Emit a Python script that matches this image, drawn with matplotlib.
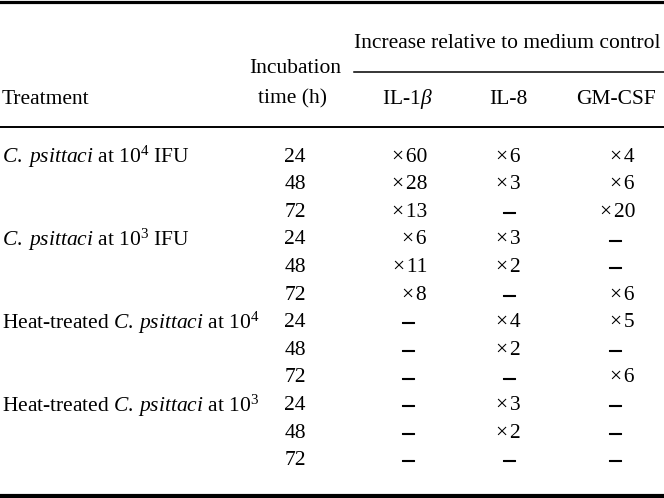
import matplotlib
matplotlib.use("Agg")
import matplotlib.pyplot as plt
import matplotlib.patheffects as pe

plt.rcParams['font.family'] = ['Liberation Serif', 'DejaVu Serif']
plt.rcParams['mathtext.fontset'] = 'custom'
plt.rcParams['mathtext.rm'] = 'Liberation Serif'
plt.rcParams['mathtext.it'] = 'Liberation Serif:italic'

# table content
treatments = [r"$\mathit{C.\;psittaci}$ at 10$^{4}$ IFU", "", "",
              r"$\mathit{C.\;psittaci}$ at 10$^{3}$ IFU", "", "",
              r"Heat-treated $\mathit{C.\,psittaci}$ at 10$^{4}$", "", "",
              r"Heat-treated $\mathit{C.\,psittaci}$ at 10$^{3}$", "", ""]
times = [24, 48, 72, 24, 48, 72, 24, 48, 72, 24, 48, 72]
il1b = [60, 28, 13, 6, 11, 8, None, None, None, None, None, None]
il8 = [6, 3, None, 3, 2, None, 4, 2, None, 3, 2, None]
gmcsf = [4, 6, 20, None, None, 6, 5, None, 6, None, None, None]
cytokines = [r"IL-1$\beta$", "IL-8", "GM-CSF"]

fig = plt.figure(figsize=(6.64, 4.98), dpi=100)
ax = fig.add_axes([0, 0, 1, 1])
ax.set_xlim(0, 664)
ax.set_ylim(498, 0)
ax.axis('off')

fs = 15.5

# rules
ax.plot([0, 664], [1.5, 1.5], color='black', lw=2.3)
ax.plot([0, 664], [127, 127], color='black', lw=1.4)
ax.plot([354, 664], [72, 72], color='black', lw=1.1)
ax.plot([0, 664], [496, 496], color='black', lw=3.0)

# header
ax.text(354, 43, "Increase relative to medium control", fontsize=fs, va='center', ha='left')
ax.text(295, 68, "Incubation", fontsize=fs, va='center', ha='center')
ax.text(2, 99, "Treatment", fontsize=fs, va='center', ha='left')
ax.text(293, 99, "time (h)", fontsize=fs, va='center', ha='center')
head_x = [407, 508, 616]
for x, lab in zip(head_x, cytokines):
    ax.text(x, 99, lab, fontsize=fs, va='center', ha='center')

# rows
row_y0, row_dy = 157, 27.6
right_x = [427, 521, 635]
dash_x = [408, 509, 615]
for i, (tr, t) in enumerate(zip(treatments, times)):
    y = row_y0 + i * row_dy
    if tr:
        ax.text(2, y, tr, fontsize=fs, va='center', ha='left')
    ax.text(295, y, str(t), fontsize=fs, va='center', ha='center')
    for j, col in enumerate([il1b, il8, gmcsf]):
        v = col[i]
        if v is None:
            ax.text(dash_x[j], y + 1, "\u2013", fontsize=16,
                    va='center', ha='center',
                    path_effects=[pe.withStroke(linewidth=0.8, foreground='black')])
        else:
            ax.text(right_x[j], y, "\u00d7\u200a%d" % v, fontsize=fs,
                    va='center', ha='right')

fig.savefig("out.png", dpi=100)
